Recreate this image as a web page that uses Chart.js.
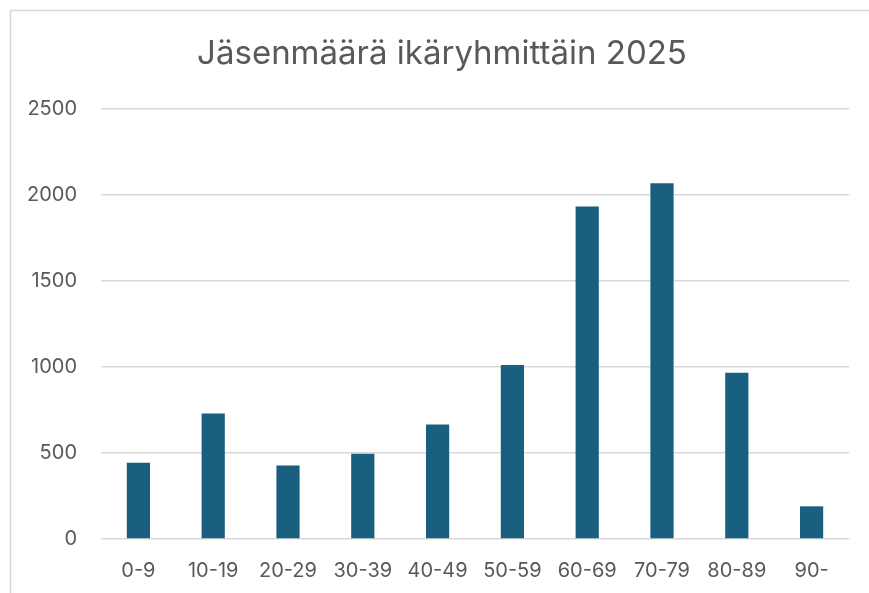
<!DOCTYPE html>
<html>
<head>
<meta charset="utf-8">
<style>
  html, body { margin: 0; padding: 0; background: #ffffff; }
  #wrap { position: relative; width: 869px; height: 593px; }
</style>
<script src="https://cdn.jsdelivr.net/npm/chart.js@4"></script>
</head>
<body>
<div id="wrap"><canvas id="c" width="869" height="593"></canvas></div>
<script>
const categories = ["0-9", "10-19", "20-29", "30-39", "40-49", "50-59", "60-69", "70-79", "80-89", "90-"];
const members = [444, 730, 427, 496, 665, 1012, 1933, 2068, 966, 190];
const yTicks = [0, 500, 1000, 1500, 2000, 2500];
const titleText = "Jäsenmäärä ikäryhmittäin 2025";

const frame = {
  id: 'frame',
  beforeDraw(chart) {
    const ctx = chart.ctx;
    ctx.save();
    ctx.fillStyle = '#ffffff';
    ctx.fillRect(0, 0, chart.width, chart.height);
    ctx.strokeStyle = '#d9d9d9';
    ctx.lineWidth = 1.5;
    ctx.beginPath();
    ctx.moveTo(10.5, chart.height);
    ctx.lineTo(10.5, 10.5);
    ctx.lineTo(chart.width, 10.5);
    ctx.stroke();
    ctx.restore();
  },
  afterDraw(chart) {
    const ctx = chart.ctx;
    ctx.save();
    ctx.fillStyle = '#595959';
    ctx.font = 'normal 33px Inter';
    ctx.textAlign = 'center';
    ctx.textBaseline = 'alphabetic';
    ctx.fillText(titleText, 442, 64);
    ctx.restore();
  }
};

new Chart(document.getElementById('c'), {
  type: 'bar',
  data: {
    labels: categories,
    datasets: [{
      data: members,
      backgroundColor: '#185f80',
      borderWidth: 0,
      categoryPercentage: 1,
      barPercentage: 0.31
    }]
  },
  options: {
    responsive: false,
    animation: false,
    devicePixelRatio: 1,
    layout: { padding: { left: 0, right: 20, top: 109, bottom: 0 } },
    plugins: {
      legend: { display: false },
      tooltip: { enabled: false },
      title: { display: false }
    },
    scales: {
      x: {
        afterFit(scale) { scale.height = 54; },
        grid: { display: false, drawTicks: false },
        border: { display: false },
        ticks: {
          color: '#595959',
          font: { family: 'Inter', size: 20 },
          padding: 20,
          maxRotation: 0,
          autoSkip: false
        }
      },
      y: {
        min: 0,
        max: 2500,
        afterFit(scale) { scale.width = 101; },
        afterBuildTicks(scale) { scale.ticks = yTicks.map(v => ({ value: v })); },
        grid: { color: '#d9d9d9', lineWidth: 1.5, drawTicks: false },
        border: { display: false },
        ticks: {
          color: '#595959',
          font: { family: 'Inter', size: 20 },
          padding: 24,
          callback: (v) => String(v)
        }
      }
    }
  },
  plugins: [frame]
});
</script>
</body>
</html>
